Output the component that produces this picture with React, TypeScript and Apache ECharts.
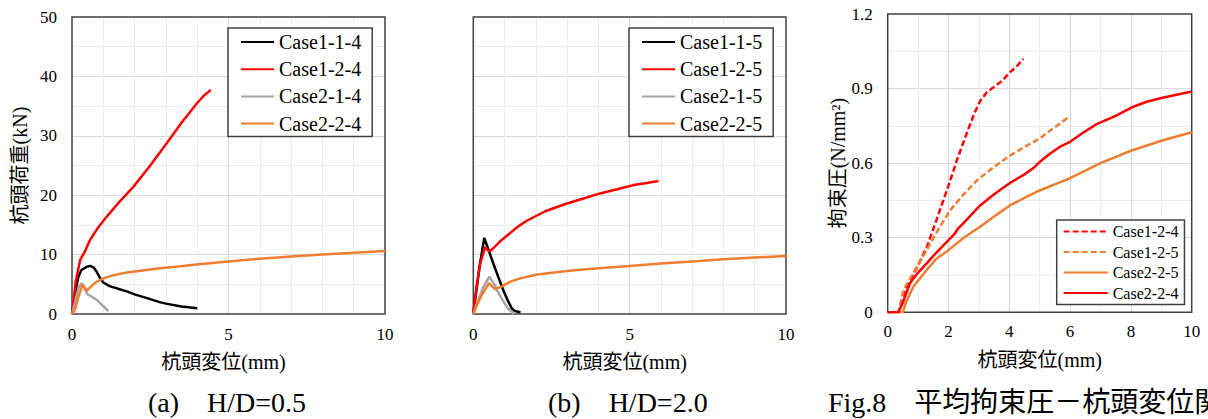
import React, { useEffect, useRef } from "react";
import * as echarts from "echarts";

const FONT = "Liberation Serif, Noto Sans CJK JP, serif";

// ---- Panel (a) H/D=0.5 : 杭頭荷重(kN) vs 杭頭変位(mm)
const case114: number[][] = [[0,0],[0.1,3.5],[0.2,6.2],[0.3,7.4],[0.45,7.9],[0.58,8.1],[0.7,7.8],[0.8,7.0],[0.9,6.0],[1.0,5.3],[1.2,4.7],[1.5,4.2],[1.75,3.8],[2.0,3.3],[2.5,2.5],[2.8,2.0],[3.0,1.75],[3.5,1.25],[4.0,0.95]];
const case124: number[][] = [[0,0],[0.12,5.5],[0.26,9.1],[0.4,10.4],[0.58,12.5],[0.8,14.3],[1.11,16.4],[1.5,18.8],[1.96,21.4],[2.5,25.0],[3.02,28.7],[3.5,32.2],[3.98,35.4],[4.2,36.7],[4.43,37.7]];
const case214: number[][] = [[0,0],[0.1,2.0],[0.2,4.3],[0.31,5.2],[0.4,4.3],[0.5,3.3],[0.6,3.0],[0.73,2.6],[0.85,2.1],[1.0,1.3],[1.16,0.5]];
const case224: number[][] = [[0,0],[0.1,0.8],[0.2,2.8],[0.34,5.0],[0.47,3.9],[0.6,4.6],[0.75,5.3],[1.0,6.0],[1.3,6.5],[1.75,7.0],[2.2,7.3],[2.8,7.7],[3.4,8.0],[3.9,8.3],[4.9,8.8],[6.0,9.3],[7.0,9.7],[8.0,10.0],[9.0,10.3],[10,10.6]];

// ---- Panel (b) H/D=2.0
const case115: number[][] = [[0,0],[0.1,4.0],[0.2,8.0],[0.35,12.8],[0.5,10.6],[0.64,8.5],[0.8,6.2],[0.96,4.0],[1.1,2.3],[1.23,0.95],[1.33,0.5],[1.51,0.3]];
const case125: number[][] = [[0,0],[0.1,4.5],[0.22,8.5],[0.38,11.3],[0.45,10.8],[0.52,10.5],[0.7,11.4],[0.85,12.2],[1.17,13.6],[1.45,14.8],[1.71,15.7],[2.3,17.3],[2.99,18.6],[3.5,19.4],[4.05,20.3],[4.6,21.0],[5.12,21.7],[5.5,22.0],[5.92,22.4]];
const case215: number[][] = [[0,0],[0.15,2.2],[0.3,4.3],[0.51,6.3],[0.65,5.2],[0.8,3.6],[0.95,2.2],[1.1,1.0],[1.3,0]];
const case225: number[][] = [[0,0],[0.1,1.3],[0.25,3.0],[0.5,5.2],[0.69,4.2],[0.9,4.6],[1.17,5.4],[1.5,6.0],[2.0,6.6],[2.77,7.1],[3.5,7.5],[4.0,7.7],[5.0,8.1],[6.0,8.5],[7.0,8.85],[8.0,9.2],[9.0,9.5],[10,9.76]];

// ---- Panel (c) 拘束圧(N/mm²) vs 杭頭変位(mm)
const c124: number[][] = [[0,0],[0.35,0],[0.5,0.05],[0.63,0.10],[1.0,0.19],[1.28,0.26],[1.6,0.37],[2.0,0.51],[2.3,0.62],[2.6,0.72],[2.85,0.80],[3.04,0.85],[3.26,0.885],[3.48,0.905],[3.75,0.93],[4.02,0.965],[4.25,0.99],[4.46,1.02]];
const c125: number[][] = [[0,0],[0.35,0],[0.52,0.09],[0.9,0.17],[1.28,0.25],[1.65,0.33],[2.05,0.41],[2.5,0.475],[2.93,0.53],[3.5,0.585],[4.02,0.63],[4.5,0.665],[5.01,0.70],[5.5,0.745],[5.94,0.784]];
const c225: number[][] = [[0,0],[0.5,0],[0.6,0.04],[0.84,0.103],[1.28,0.17],[1.6,0.215],[2.0,0.25],[2.5,0.3],[3.04,0.344],[3.5,0.385],[4.02,0.43],[4.5,0.46],[5.0,0.49],[6.0,0.54],[7.0,0.6],[8.0,0.65],[9.0,0.69],[10,0.724]];
const c224: number[][] = [[0,0],[0.35,0],[0.5,0.04],[0.73,0.117],[1.0,0.16],[1.28,0.197],[1.6,0.24],[2.0,0.29],[2.2,0.315],[2.3,0.335],[2.5,0.36],[3.04,0.43],[3.5,0.475],[4.02,0.52],[4.5,0.555],[4.79,0.58],[5.01,0.606],[5.3,0.635],[5.67,0.666],[6.0,0.686],[6.4,0.72],[6.87,0.757],[7.5,0.79],[8.08,0.827],[8.52,0.847],[9.0,0.862],[9.5,0.875],[10,0.888]];

const xName = "杭頭変位(mm)";
const yNameA = "杭頭荷重(kN)";
const yNameC = "拘束圧(N/mm²)";
const captionA = "(a)　H/D=0.5";
const captionB = "(b)　H/D=2.0";
const captionC = "Fig.8　平均拘束圧－杭頭変位関係";

const BLACK = "#000000";
const RED = "#ff0000";
const GRAY = "#a6a6a6";
const ORANGE = "#ed7d31";

const MAJOR = "#d9d9d9";
const MINOR = "#ededed";

function line(name: string, data: number[][], color: string, dashed = false, width = 2.5) {
  return {
    type: "line",
    name,
    data,
    symbol: "none",
    showSymbol: false,
    lineStyle: { color, width, type: dashed ? [6, 3] : "solid" },
    itemStyle: { color },
    z: 3,
  };
}

function valueAxis(o: any) {
  return {
    type: "value",
    min: o.min,
    max: o.max,
    interval: o.interval,
    axisLine: { show: false },
    axisTick: { show: false },
    axisLabel: {
      show: o.labels !== false,
      fontSize: 17,
      color: "#000",
      fontFamily: FONT,
      margin: o.margin,
    },
    splitLine: { show: true, showMinLine: false, showMaxLine: false, lineStyle: { color: MAJOR, width: 1.2 } },
    minorTick: { show: false, splitNumber: o.minor },
    minorSplitLine: { show: true, lineStyle: { color: MINOR, width: 1 } },
    name: o.name,
    nameLocation: "middle",
    nameGap: o.nameGap,
    nameRotate: o.nameRotate,
    nameMoveOverlap: false,
    nameTextStyle: { fontSize: 20, color: "#000", fontFamily: FONT, padding: o.namePadding || 0 },
  };
}

function legend(o: any) {
  return {
    orient: "vertical",
    left: o.left,
    top: o.top,
    padding: o.padding,
    itemWidth: o.itemWidth,
    itemHeight: 2,
    itemGap: o.itemGap,
    borderColor: "#404040",
    borderWidth: 1.5,
    borderRadius: 0,
    backgroundColor: "#ffffff",
    selectedMode: false,
    itemStyle: { opacity: 0 },
    textStyle: { fontSize: o.fontSize, lineHeight: o.fontSize, color: "#000", fontFamily: FONT },
    data: o.data,
  };
}

function caption(text: string, x: number) {
  return {
    type: "text",
    left: x,
    top: 388,
    style: { text, fontSize: 28, fontFamily: FONT, fill: "#000" },
  };
}

const optionA = {
  animation: false,
  textStyle: { fontFamily: FONT },
  grid: { left: 72, top: 17, width: 313, height: 297, show: true, borderColor: "#404040", borderWidth: 1.5, backgroundColor: "transparent", z: 1 },
  xAxis: valueAxis({ min: 0, max: 10, interval: 5, minor: 5, margin: 12, name: xName, nameGap: 38, namePadding: [0, 10, 0, 0] }),
  yAxis: valueAxis({ min: 0, max: 50, interval: 10, minor: 2, margin: 15, name: yNameA, nameGap: 42, nameRotate: 90 }),
  legend: legend({ left: 228, top: 28, padding: [4, 11, 3, 12], itemWidth: 33, itemGap: 7.2, fontSize: 20, data: ["Case1-1-4", "Case1-2-4", "Case2-1-4", "Case2-2-4"] }),
  series: [
    line("Case1-1-4", case114, BLACK),
    line("Case1-2-4", case124, RED),
    line("Case2-1-4", case214, GRAY),
    line("Case2-2-4", case224, ORANGE),
  ],
  graphic: [caption(captionA, 148)],
};

const optionB = {
  animation: false,
  textStyle: { fontFamily: FONT },
  grid: { left: 73.3, top: 17, width: 312.7, height: 297, show: true, borderColor: "#404040", borderWidth: 1.5, backgroundColor: "transparent", z: 1 },
  xAxis: valueAxis({ min: 0, max: 10, interval: 5, minor: 5, margin: 12, name: xName, nameGap: 38, namePadding: [0, 10, 0, 0] }),
  yAxis: valueAxis({ min: 0, max: 50, interval: 10, minor: 2, margin: 15, labels: false }),
  legend: legend({ left: 229, top: 28, padding: [4, 11, 3, 12], itemWidth: 33, itemGap: 7.2, fontSize: 20, data: ["Case1-1-5", "Case1-2-5", "Case2-1-5", "Case2-2-5"] }),
  series: [
    line("Case1-1-5", case115, BLACK),
    line("Case1-2-5", case125, RED),
    line("Case2-1-5", case215, GRAY),
    line("Case2-2-5", case225, ORANGE),
  ],
  graphic: [caption(captionB, 148)],
};

const optionC = {
  animation: false,
  textStyle: { fontFamily: FONT },
  grid: { left: 87.7, top: 14, width: 304, height: 298.3, show: true, borderColor: "#404040", borderWidth: 1.5, backgroundColor: "transparent", z: 1 },
  xAxis: valueAxis({ min: 0, max: 10, interval: 2, minor: 2, margin: 11, name: xName, nameGap: 38 }),
  yAxis: valueAxis({ min: 0, max: 1.2, interval: 0.3, minor: 2, margin: 15, name: yNameC, nameGap: 40, nameRotate: 90 }),
  legend: legend({ left: 256.7, top: 220, padding: [3.5, 6, 3.5, 6], itemWidth: 44, itemGap: 4.5, fontSize: 16, data: ["Case1-2-4", "Case1-2-5", "Case2-2-5", "Case2-2-4"] }),
  series: [
    line("Case1-2-4", c124, RED, true),
    line("Case1-2-5", c125, ORANGE, true),
    line("Case2-2-5", c225, ORANGE),
    line("Case2-2-4", c224, RED),
  ],
  graphic: [caption(captionC, 28)],
};

function Chart({ option, left, width }: { option: any; left: number; width: number }) {
  const ref = useRef<HTMLDivElement>(null);
  useEffect(() => {
    const c = echarts.init(ref.current!, null, { renderer: "svg" });
    c.setOption(option);
    return () => c.dispose();
  }, [option]);
  return <div ref={ref} style={{ position: "absolute", left, top: 0, width, height: 419, overflow: "hidden" }} />;
}

const CSS = `svg text { font-family: "Liberation Serif", "Noto Sans CJK JP", serif !important; }`;

export default function App() {
  return (
    <div style={{ position: "fixed", left: 0, top: 0, width: 1208, height: 419, overflow: "hidden", background: "#fff" }}>
      <style>{CSS}</style>
      <Chart option={optionA} left={0} width={400} />
      <Chart option={optionB} left={400} width={400} />
      <Chart option={optionC} left={800} width={408} />
    </div>
  );
}
